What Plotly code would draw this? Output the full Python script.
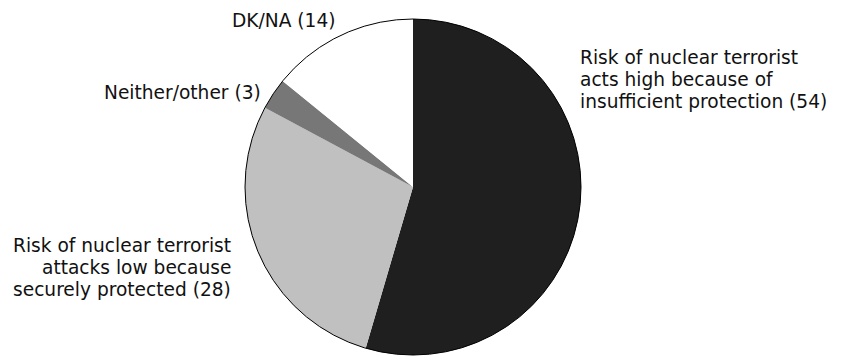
import plotly.graph_objects as go

categories = [
    "Risk of nuclear terrorist<br>acts high because of<br>insufficient protection",
    "Risk of nuclear terrorist<br>attacks low because<br>securely protected",
    "Neither/other",
    "DK/NA",
]
values = [54, 28, 3, 14]
colors = ["#1f1f1f", "#c0c0c0", "#777777", "#ffffff"]

W, H = 843, 356
dom_x = [245 / W, 581 / W]
dom_y = [(H - 355) / H, (H - 19) / H]

fig = go.Figure(go.Pie(
    labels=categories,
    values=values,
    sort=False,
    direction="clockwise",
    rotation=0,
    textinfo="none",
    hoverinfo="label+value",
    marker=dict(colors=colors, line=dict(width=0)),
    domain=dict(x=dom_x, y=dom_y),
    showlegend=False,
))

# outline around the pie
fig.add_shape(type="circle", xref="paper", yref="paper",
              x0=dom_x[0], x1=dom_x[1], y0=dom_y[0], y1=dom_y[1],
              line=dict(color="black", width=1))

font = dict(family="DejaVu Sans, sans-serif", size=18.6, color="#111111")
LINE = 21.8
# (anchor x px, first-line center y px, xanchor)
labels_pos = [
    (578, 57.6, "left"),
    (233, 245.6, "right"),
    (263, 92.6, "right"),
    (283, 20.6, "center"),
]
for (x, y, xa), cat, v in zip(labels_pos, categories, values):
    lines = f"{cat} ({v})".split("<br>")
    for i, ln in enumerate(lines):
        fig.add_annotation(
            x=x / W, y=1 - (y + i * LINE) / H, xref="paper", yref="paper",
            text=ln, showarrow=False,
            xanchor=xa, yanchor="middle",
            font=font,
        )

fig.update_layout(
    width=W, height=H,
    margin=dict(l=0, r=0, t=0, b=0),
    paper_bgcolor="white",
    plot_bgcolor="white",
)
fig.write_html("out.html")
